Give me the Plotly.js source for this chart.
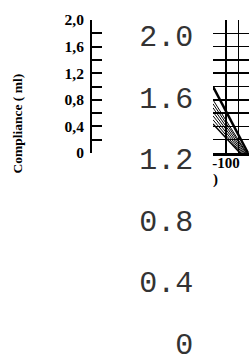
<!DOCTYPE html>
<html>
<head>
<meta charset="utf-8">
<script src="https://cdn.plot.ly/plotly-3.0.1.min.js"></script>
<style>html,body{margin:0;padding:0;background:#fff;}#chart{width:249px;height:356px;}</style>
</head>
<body>
<div id="chart"></div>
<script>
// Left scanned axis (Compliance, ml)
const leftTickVals = [0, 0.2, 0.4, 0.6, 0.8, 1.0, 1.2, 1.4, 1.6, 1.8, 2.0];
const leftTickText = ['0', '', '0,4', '', '0,8', '', '1,2', '', '1,6', '', '2,0'];
// Typewriter-style axis labels
const courierTickVals = [0, 0.4, 0.8, 1.2, 1.6, 2.0];
const courierTickText = ['0', '0.4', '0.8', '1.2', '1.6', '2.0'];
// Right scanned panel (pressure axis)
const gridXVals = [-110, -100, -90, -80];
const gridXText = ['', '-100', '', ''];
const gridYVals = [0, 0.2, 0.4, 0.6, 0.8, 1.0, 1.2, 1.4, 1.6, 1.8, 2.0];
// Curves in the right panel
const upperX = [-110.4, -82.4];
const upperY = [1.0, 0];
const lowerX = [-110.4, -88.8];
const lowerY = [0.436, 0];
// Hatching between the curves
const hatchX = [-110.4, -88, null, -110.4, -87, null, -110.4, -86, null, -110.4, -85, null, -110.4, -84, null, -110.4, -83.5];
const hatchY = [0.50, 0, null, 0.56, 0, null, 0.62, 0, null, 0.68, 0, null, 0.74, 0, null, 0.80, 0];

const serif = 'Liberation Serif, Times New Roman, serif';

const traces = [
  {x: [], y: [], xaxis: 'x', yaxis: 'y', type: 'scatter', mode: 'lines', hoverinfo: 'skip'},
  {x: [], y: [], xaxis: 'x3', yaxis: 'y3', type: 'scatter', mode: 'lines', hoverinfo: 'skip'},
  {x: hatchX, y: hatchY, xaxis: 'x2', yaxis: 'y4', type: 'scatter', mode: 'lines',
   line: {color: '#000', width: 1}, connectgaps: false},
  {x: lowerX, y: lowerY, xaxis: 'x2', yaxis: 'y4', type: 'scatter', mode: 'lines',
   line: {color: '#000', width: 1.5}},
  {x: upperX, y: upperY, xaxis: 'x2', yaxis: 'y4', type: 'scatter', mode: 'lines',
   line: {color: '#000', width: 2.5}}
];

const layout = {
  width: 249, height: 356,
  margin: {l: 0, r: 0, t: 0, b: 0, pad: 0},
  paper_bgcolor: '#fff', plot_bgcolor: 'rgba(0,0,0,0)',
  showlegend: false,
  xaxis: {domain: [0.3695, 0.40], visible: false, range: [0, 1]},
  yaxis: {
    domain: [0.5702, 0.9438], range: [0, 2], anchor: 'x',
    tickmode: 'array', tickvals: leftTickVals, ticktext: leftTickText,
    ticks: 'inside', ticklen: 10, tickwidth: 2, tickcolor: '#000',
    showline: true, linewidth: 2, linecolor: '#000',
    showgrid: false, zeroline: false, ticklabelstandoff: 3,
    tickfont: {family: serif, size: 15.5, color: '#000', weight: 'bold'}
  },
  xaxis3: {domain: [0.78, 0.79], visible: false, range: [0, 1]},
  yaxis3: {
    domain: [0.0348, 0.9006], range: [0, 2], anchor: 'x3',
    tickmode: 'array', tickvals: courierTickVals, ticktext: courierTickText,
    ticks: '', showline: false, showgrid: false, zeroline: false,
    ticklabeloverflow: 'allow',
    tickfont: {family: 'Liberation Mono, Courier New, monospace', size: 30, color: '#333'}
  },
  xaxis2: {
    domain: [0.8554, 1], range: [-110.4, -81.6], anchor: 'y4',
    tickmode: 'array', tickvals: gridXVals, ticktext: gridXText,
    ticks: '', showgrid: true, gridcolor: '#000', gridwidth: 1.5,
    showline: true, linewidth: 3, linecolor: '#000', zeroline: false,
    ticklabelstandoff: -6, ticklabeloverflow: 'allow',
    tickfont: {family: serif, size: 15, color: '#000', weight: 'bold'}
  },
  yaxis4: {
    domain: [0.5702, 0.9438], range: [0, 2], anchor: 'x2',
    tickmode: 'array', tickvals: gridYVals,
    showticklabels: false, ticks: '',
    showgrid: true, gridcolor: '#000', gridwidth: 1.5, zeroline: false
  },
  annotations: [
    {text: 'Compliance ( ml)', textangle: -90, xref: 'paper', yref: 'paper',
     x: 0.0703, y: 0.6517, xanchor: 'center', yanchor: 'middle', showarrow: false,
     font: {family: serif, size: 13.5, color: '#000', weight: 'bold'}},
    {text: ')', xref: 'paper', yref: 'paper', x: 0.8635, y: 0.4944,
     xanchor: 'center', yanchor: 'middle', showarrow: false,
     font: {family: serif, size: 15, color: '#000', weight: 'bold'}}
  ]
};

Plotly.newPlot('chart', traces, layout, {displayModeBar: false, staticPlot: true});
</script>
</body>
</html>
